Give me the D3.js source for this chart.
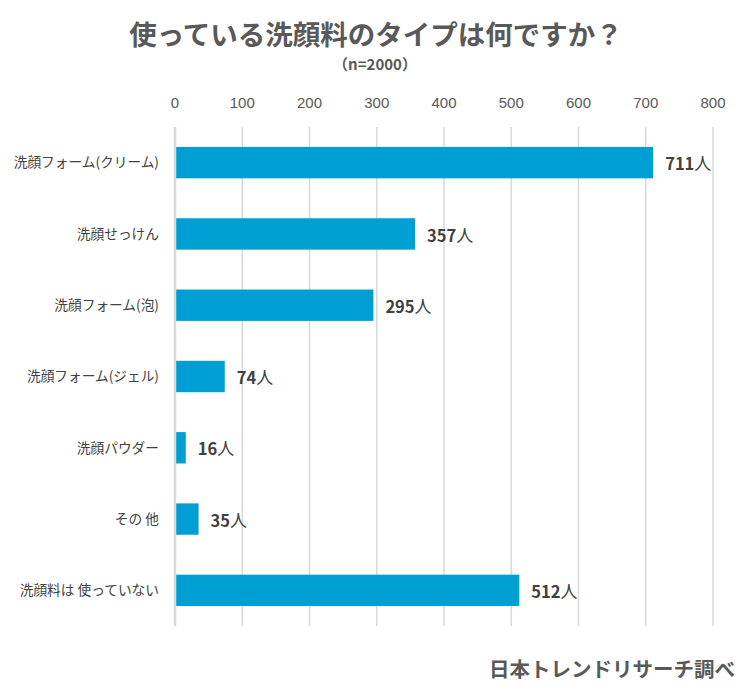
<!DOCTYPE html>
<html><head><meta charset="utf-8">
<script src="https://cdn.jsdelivr.net/npm/d3@7"></script>
<style>
body{margin:0;background:#fff;}
svg{font-family:"Noto Sans CJK JP","Noto Sans",sans-serif;}
</style></head>
<body>
<svg id="c" width="750" height="696"></svg>
<script>
const categories = ["洗顔フォーム(クリーム)","洗顔せっけん","洗顔フォーム(泡)","洗顔フォーム(ジェル)","洗顔パウダー","その 他","洗顔料は 使っていない"];
const values = [711,357,295,74,16,35,512];
const tickValues = [0,100,200,300,400,500,600,700,800];
const unit = "人";

const svg = d3.select("#c");
const x = d3.scaleLinear().domain([0,800]).range([175,713]);
const y = d3.scaleBand().domain(categories).range([127,626]).paddingInner(0.56).paddingOuter(0.28);

// title
svg.append("text").attr("x",376).attr("y",45).attr("text-anchor","middle")
  .attr("font-size",27.5).attr("font-weight","bold").attr("fill","#595959").text("使っている洗顔料のタイプは何ですか？");
svg.append("text").attr("x",375).attr("y",70).attr("text-anchor","middle")
  .attr("font-size",15).attr("font-weight","bold").attr("fill","#595959").text("（n=2000）");

// grid
svg.append("g").selectAll("line").data(tickValues.slice(1)).join("line")
  .attr("x1",d=>x(d)).attr("x2",d=>x(d)).attr("y1",127).attr("y2",626)
  .attr("stroke","#d9d9d9").attr("stroke-width",1.5);
// tick labels
svg.append("g").selectAll("text").data(tickValues).join("text")
  .attr("x",d=>x(d)).attr("y",108).attr("text-anchor","middle")
  .attr("font-family","'Liberation Sans',sans-serif")
  .attr("font-size",15).attr("fill","#595959").text(d=>d);

// bars
svg.append("g").selectAll("rect").data(values).join("rect")
  .attr("x",x(0)).attr("y",(d,i)=>y(categories[i]))
  .attr("width",d=>x(d)-x(0)).attr("height",y.bandwidth()).attr("fill","#009fd3");

// axis line
svg.append("line").attr("x1",x(0)).attr("x2",x(0)).attr("y1",127).attr("y2",626)
  .attr("stroke","#d9d9d9").attr("stroke-width",2.5);

// category labels
svg.append("g").selectAll("text").data(categories).join("text")
  .attr("x",159).attr("y",c=>y(c)+y.bandwidth()/2).attr("dy","0.35em")
  .attr("text-anchor","end").attr("font-size",13.7).attr("fill","#404040").text(c=>c);

// value labels
const vl = svg.append("g").selectAll("text").data(values).join("text")
  .attr("x",d=>x(d)+12).attr("y",(d,i)=>y(categories[i])+y.bandwidth()/2+2).attr("dy","0.35em")
  .attr("fill","#404040");
vl.append("tspan").attr("font-size",16.5).attr("font-weight","bold").text(d=>d);
vl.append("tspan").attr("font-size",17).text(unit);

// footer
svg.append("text").attr("x",735).attr("y",677).attr("text-anchor","end")
  .attr("font-size",20.5).attr("font-weight","bold").attr("fill","#595959").text("日本トレンドリサーチ調べ");
</script>
</body></html>
